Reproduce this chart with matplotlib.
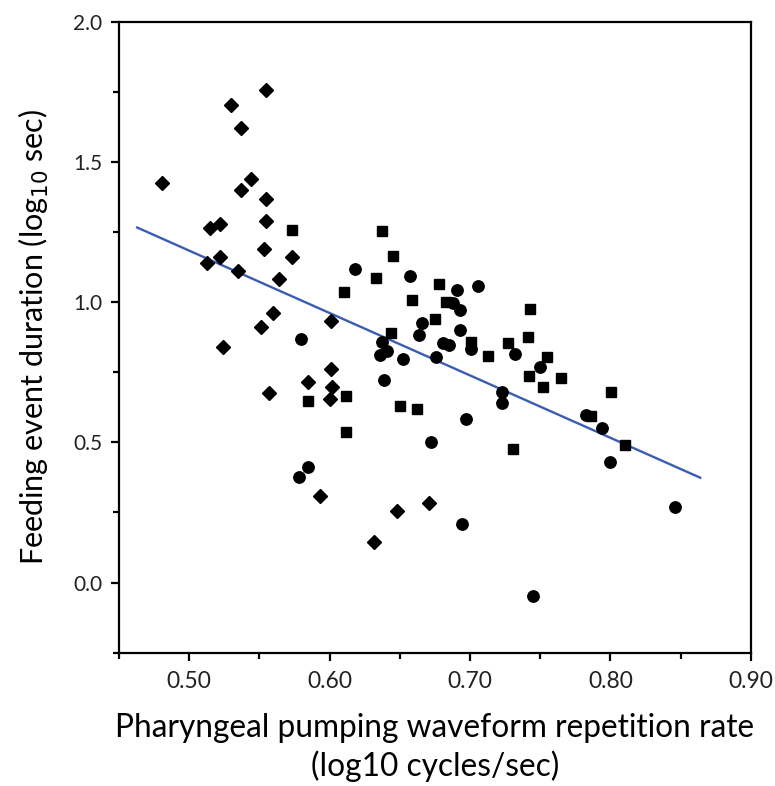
import matplotlib
matplotlib.use("Agg")
import matplotlib.pyplot as plt
from matplotlib.ticker import MultipleLocator, FormatStrFormatter

plt.rcParams['font.family'] = ['Lato', 'DejaVu Sans']

# diamonds
dia_x = [0.481, 0.555, 0.530, 0.537, 0.544, 0.537, 0.555, 0.555, 0.515, 0.522,
         0.553, 0.573, 0.522, 0.513, 0.535, 0.564, 0.560, 0.601, 0.551, 0.524,
         0.601, 0.585, 0.557, 0.602, 0.600, 0.593, 0.632, 0.648, 0.671]
dia_y = [1.426, 1.755, 1.702, 1.622, 1.440, 1.401, 1.368, 1.288, 1.264, 1.279,
         1.190, 1.162, 1.162, 1.140, 1.111, 1.082, 0.961, 0.933, 0.913, 0.839,
         0.761, 0.716, 0.675, 0.699, 0.655, 0.309, 0.145, 0.255, 0.283]

# squares
sq_x = [0.573, 0.637, 0.645, 0.633, 0.610, 0.659, 0.644, 0.585, 0.612, 0.612,
        0.650, 0.662, 0.678, 0.683, 0.675, 0.743, 0.7005, 0.727, 0.741, 0.713,
        0.755, 0.742, 0.752, 0.765, 0.8005, 0.786, 0.8105, 0.7305]
sq_y = [1.256, 1.254, 1.163, 1.087, 1.037, 1.006, 0.889, 0.648, 0.667, 0.536,
        0.630, 0.618, 1.064, 1.002, 0.940, 0.976, 0.859, 0.856, 0.875, 0.808,
        0.804, 0.737, 0.696, 0.728, 0.679, 0.594, 0.490, 0.475]

# circles
circ_x = [0.618, 0.657, 0.666, 0.664, 0.580, 0.639, 0.652, 0.636, 0.641, 0.637,
          0.672, 0.585, 0.578, 0.693, 0.7005, 0.681, 0.685, 0.6755, 0.732, 0.750,
          0.7226, 0.7226, 0.7826, 0.794, 0.800, 0.697, 0.694, 0.745, 0.846, 0.691,
          0.706, 0.688, 0.6926]
circ_y = [1.118, 1.094, 0.927, 0.883, 0.870, 0.722, 0.796, 0.812, 0.824, 0.859,
          0.502, 0.413, 0.377, 0.899, 0.832, 0.854, 0.848, 0.804, 0.814, 0.770,
          0.679, 0.639, 0.598, 0.550, 0.431, 0.582, 0.208, -0.048, 0.270, 1.044,
          1.056, 0.996, 0.972]

# regression line end points
fit_x = [0.463, 0.864]
fit_y = [1.266, 0.374]

fig = plt.figure(figsize=(7.75, 7.86), dpi=100)
ax = fig.add_axes([0.1535, 0.1696, 0.8152, 0.8028])

ax.plot(fit_x, fit_y, color="#3a5db3", lw=1.7, zorder=2)
ax.plot(dia_x, dia_y, "D", color="black", ms=7.6, ls="none", zorder=3)
ax.plot(sq_x, sq_y, "s", color="black", ms=7.6, ls="none", zorder=3)
ax.plot(circ_x, circ_y, "o", color="black", ms=8.2, ls="none", zorder=3)

ax.set_xlim(0.45, 0.90)
ax.set_ylim(-0.25, 2.0)
ax.xaxis.set_major_locator(MultipleLocator(0.1))
ax.xaxis.set_minor_locator(MultipleLocator(0.05))
ax.yaxis.set_major_locator(MultipleLocator(0.5))
ax.yaxis.set_minor_locator(MultipleLocator(0.25))
ax.xaxis.set_major_formatter(FormatStrFormatter("%.2f"))
ax.yaxis.set_major_formatter(FormatStrFormatter("%.1f"))

for s in ax.spines.values():
    s.set_linewidth(1.6)
ax.tick_params(which="major", length=6, width=1.6, color="black", labelcolor="#222222")
ax.tick_params(which="minor", length=4, width=1.6)
ax.tick_params(axis="x", labelsize=16.5, pad=7)
ax.tick_params(axis="y", labelsize=15, pad=6)

ax.set_xlabel("Pharyngeal pumping waveform repetition rate\n(log10 cycles/sec)",
              fontsize=22.8, labelpad=15, linespacing=1.3)
ax.set_ylabel("Feeding event duration (log$_{10}$ sec)", fontsize=22, labelpad=16)

fig.savefig("out.png", dpi=100)
